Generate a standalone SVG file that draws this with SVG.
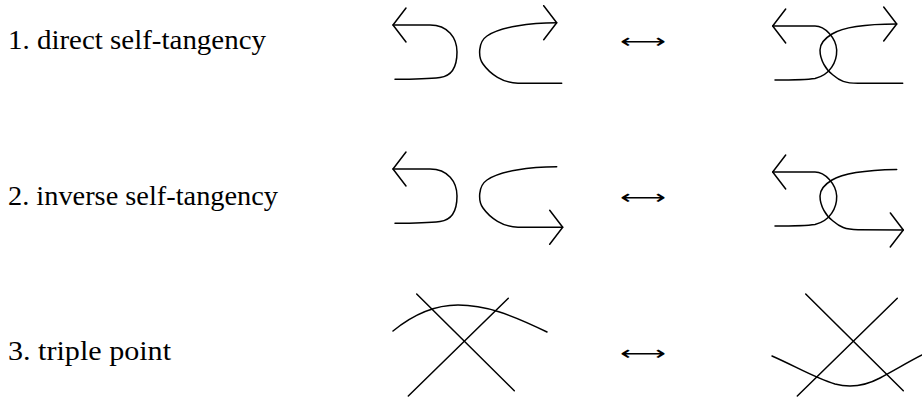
<svg xmlns="http://www.w3.org/2000/svg" width="922" height="398" viewBox="0 0 922 398">
<style>
.lbl{font-family:"Liberation Serif","Times New Roman",serif;font-size:28px;fill:#000}
.eq{font-family:"DejaVu Sans",sans-serif;font-size:20px;fill:#000}
.c{fill:none;stroke:#000;stroke-width:1.5;stroke-linecap:round;stroke-linejoin:round}
.a{marker-start:url(#ar)}
.b{marker-end:url(#ar)}
</style>
<defs>
<marker id="ar" markerUnits="userSpaceOnUse" viewBox="-16 -20 20 40" refX="0" refY="0" markerWidth="20" markerHeight="40" orient="auto-start-reverse" overflow="visible">
<path d="M-13,-17 L0,0 L-13,17" fill="none" stroke="#000" stroke-width="1.5" stroke-linecap="round" stroke-linejoin="round"/>
</marker>
</defs>
<rect width="922" height="398" fill="#fff"/>

<g id="labels">
<text class="lbl" x="8" y="49" textLength="258" lengthAdjust="spacingAndGlyphs">1. direct self-tangency</text>
<text class="lbl" x="8" y="205" textLength="270" lengthAdjust="spacingAndGlyphs">2. inverse self-tangency</text>
<text class="lbl" x="8" y="360" textLength="163" lengthAdjust="spacingAndGlyphs">3. triple point</text>
</g>

<g id="equivalences">
<text class="eq" x="620" y="48" textLength="46" lengthAdjust="spacingAndGlyphs">⟷</text>
<text class="eq" x="620" y="204" textLength="46" lengthAdjust="spacingAndGlyphs">⟷</text>
<text class="eq" x="620" y="359.5" textLength="46" lengthAdjust="spacingAndGlyphs">⟷</text>
</g>

<g id="connectors">
<g id="row1-before">
<path class="c a" d="M393,25 L430,25 C448,25 457,38 457,52 C457,66 452,76 440,77.5 C428,79 410,79.3 395,79.3"/>
<path class="c a" d="M556.7,22.7 C530,22.7 500,27 487,36 C478,42 478,57 483,64 C490,74 503,83 518,83.3 L561.7,83.3"/>
</g>
<g id="row1-after">
<path class="c a" d="M772.7,26 L815,26 C825,26 836,38 836.7,50 C837,62 830,75 815,78.5 C805,80 790,80 775,80"/>
<path class="c a" d="M896.7,24 C870,24 845,26 832,34 C822,40 820,45 820,50 C820,60 826,70 833,75 C840,81 845,83.3 858,83.3 L902.7,83.3"/>
</g>
<g id="row2-before" transform="translate(0,144)">
<path class="c a" d="M393,25 L430,25 C448,25 457,38 457,52 C457,66 452,76 440,77.5 C428,79 410,79.3 395,79.3"/>
<path class="c b" d="M556.7,22.7 C530,22.7 500,27 487,36 C478,42 478,57 483,64 C490,74 503,83 518,83.3 L562.7,83.3"/>
</g>
<g id="row2-after" transform="translate(0,146)">
<path class="c a" d="M772.7,26 L815,26 C825,26 836,38 836.7,50 C837,62 830,75 815,78.5 C805,80 790,80 775,80"/>
<path class="c b" d="M896.7,23.5 C870,24 845,26 832,34 C822,40 820,45 820,50 C820,60 826,70 833,75 C840,81 845,83.5 858,83.8 L903.3,84"/>
</g>
<g id="row3-before">
<path class="c" d="M416.7,294 L514.3,390.7"/>
<path class="c" d="M508.3,298.3 L408.3,396"/>
<path class="c" d="M393,331 C415,313 435,305 458,305 C485,305 510,314 547,332"/>
</g>
<g id="row3-after">
<path class="c" d="M805.7,294 L903.3,390.7"/>
<path class="c" d="M897.3,298.3 L797.3,396"/>
<path class="c" d="M772,356 C795,366 815,378 835,384 C850,388 865,386 880,378 C895,370 910,361 922,355"/>
</g>
</g>
</svg>
